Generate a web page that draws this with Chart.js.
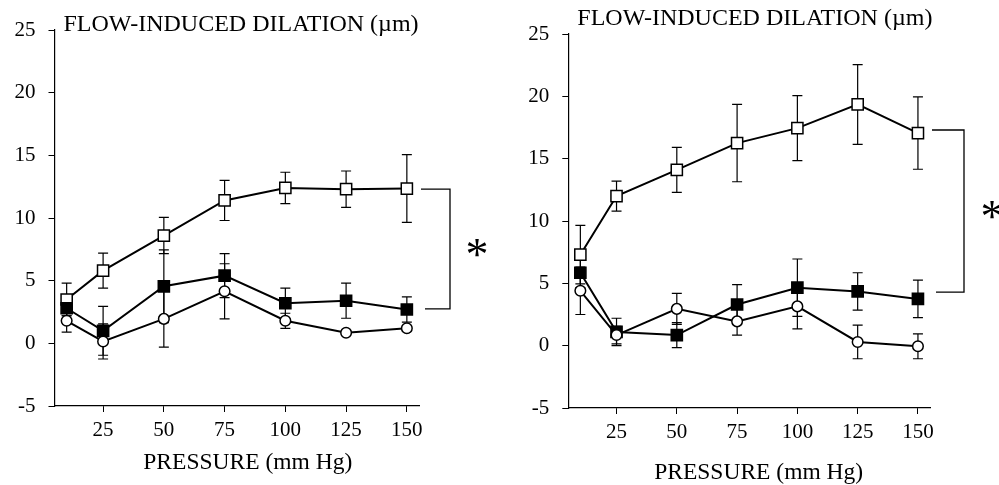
<!DOCTYPE html>
<html lang="en">
<head>
<meta charset="UTF-8" />
<title>Flow-induced dilation vs pressure</title>
<script src="https://cdn.jsdelivr.net/npm/chart.js@4.4.0/dist/chart.umd.min.js"></script>
<style>
  body { margin: 0; background: #fff; }
  .wrap { position: relative; width: 999px; height: 485px; }
  canvas { position: absolute; top: 0; }
  #leftChart { left: 0; }
  #rightChart { left: 500px; }
</style>
</head>
<body>
<div class="wrap">
  <canvas id="leftChart" width="500" height="485"></canvas>
  <canvas id="rightChart" width="499" height="485"></canvas>
</div>
<script>
// x positions (mm Hg) and axis ticks
const pressure = [10, 25, 50, 75, 100, 125, 150];
const xTickValues = [25, 50, 75, 100, 125, 150];
const yTickValues = [-5, 0, 5, 10, 15, 20, 25];

// left panel
const leftOpenSq = [3.5, 5.8, 8.6, 11.4, 12.4, 12.3, 12.35];
const leftOpenSqErr = [1.3, 1.4, 1.45, 1.6, 1.25, 1.45, 2.7];
const leftFilledSq = [2.8, 1.0, 4.55, 5.4, 3.2, 3.4, 2.7];
const leftFilledSqErr = [0.6, 1.95, 2.9, 1.75, 1.2, 1.4, 1.0];
const leftCircle = [1.8, 0.15, 1.95, 4.15, 1.8, 0.85, 1.2];
const leftCircleErr = [0.9, 1.4, 2.25, 2.2, 0.6, 0.2, 0.2];
const leftBracket = [12.3, 2.75];

// right panel
const rightOpenSq = [7.3, 12.0, 14.1, 16.25, 17.45, 19.35, 17.05];
const rightOpenSqErr = [2.35, 1.2, 1.8, 3.1, 2.6, 3.2, 2.9];
const rightFilledSq = [5.85, 1.1, 0.85, 3.3, 4.65, 4.35, 3.75];
const rightFilledSqErr = [1.2, 1.1, 1.0, 1.6, 2.3, 1.5, 1.5];
const rightCircle = [4.4, 0.85, 2.95, 1.95, 3.15, 0.3, -0.05];
const rightCircleErr = [1.9, 0.7, 1.25, 1.1, 1.8, 1.35, 1.0];
const rightBracket = [17.3, 4.3];

const titleText = 'FLOW-INDUCED DILATION (\u00b5m)';
const xTitleText = 'PRESSURE (mm Hg)';
const serif = "'Liberation Serif', 'Times New Roman', serif";

function pts(vals) {
  return pressure.map((p, i) => ({ x: p, y: vals[i] }));
}

// vertical error bars with caps, drawn under the markers
const errorBars = {
  id: 'errorBars',
  beforeDatasetsDraw(chart) {
    const ctx = chart.ctx;
    const ys = chart.scales.y;
    ctx.save();
    ctx.strokeStyle = '#000';
    ctx.lineWidth = 1.2;
    chart.data.datasets.forEach((ds, i) => {
      const meta = chart.getDatasetMeta(i);
      meta.data.forEach((el, j) => {
        const v = ds.data[j].y;
        const e = ds.errors[j];
        const top = ys.getPixelForValue(v + e);
        const bot = ys.getPixelForValue(v - e);
        ctx.beginPath();
        ctx.moveTo(el.x, top); ctx.lineTo(el.x, bot);
        ctx.moveTo(el.x - 5, top); ctx.lineTo(el.x + 5, top);
        ctx.moveTo(el.x - 5, bot); ctx.lineTo(el.x + 5, bot);
        ctx.stroke();
      });
    });
    ctx.restore();
  }
};

// titles, significance bracket and asterisk
const extras = {
  id: 'extras',
  afterDraw(chart, args, opts) {
    const ctx = chart.ctx;
    const area = chart.chartArea;
    const ys = chart.scales.y;
    ctx.save();
    ctx.fillStyle = '#000';
    ctx.font = '24px ' + serif;
    ctx.textBaseline = 'alphabetic';
    ctx.fillText(titleText, area.left + opts.titleDx, area.top + opts.titleDy);

    ctx.font = '23.5px ' + serif;
    ctx.textAlign = 'center';
    ctx.textBaseline = 'middle';
    ctx.fillText(xTitleText, (area.left + area.right) / 2 + opts.xTitleDx, opts.xTitleY);

    const yt = ys.getPixelForValue(opts.bracket[0]);
    const yb = ys.getPixelForValue(opts.bracket[1]);
    const x1 = area.right + opts.bracketW;
    ctx.strokeStyle = '#000';
    ctx.lineWidth = 1.3;
    ctx.beginPath();
    ctx.moveTo(area.right + 2, yt);
    ctx.lineTo(x1, yt);
    ctx.lineTo(x1, yb);
    ctx.lineTo(area.right + 6, yb);
    ctx.stroke();

    ctx.font = '46px ' + serif;
    ctx.textBaseline = 'alphabetic';
    ctx.fillText('*', area.right + opts.starDx, (yt + yb) / 2 + 21 + opts.starDy);
    ctx.restore();
  }
};

function makePanel(id, openSq, openErr, filledSq, filledErr, circ, circErr, extra) {
  const line = { borderColor: '#000', borderWidth: 2, pointBorderColor: '#000', pointBorderWidth: 1.5 };
  return new Chart(document.getElementById(id), {
    type: 'line',
    data: {
      datasets: [
        Object.assign({ data: pts(circ), errors: circErr, pointStyle: 'circle', pointRadius: 5.3,
          pointBackgroundColor: '#fff' }, line),
        Object.assign({ data: pts(filledSq), errors: filledErr, pointStyle: 'rect', pointRadius: 7.9,
          pointBackgroundColor: '#000' }, line),
        Object.assign({ data: pts(openSq), errors: openErr, pointStyle: 'rect', pointRadius: 7.9,
          pointBackgroundColor: '#fff' }, line)
      ]
    },
    options: {
      responsive: false,
      animation: false,
      layout: { padding: extra.padding },
      plugins: { legend: { display: false }, tooltip: { enabled: false }, extras: extra },
      scales: {
        x: {
          type: 'linear',
          min: 5,
          max: 155,
          afterBuildTicks: (s) => { s.ticks = xTickValues.map((v) => ({ value: v })); },
          afterFit: (s) => { s.height = extra.xHeight; },
          grid: { drawOnChartArea: false, color: '#000', tickLength: 6 },
          border: { color: '#000', width: 1.2 },
          ticks: { color: '#000', font: { family: serif, size: 21 }, padding: 6, maxRotation: 0 }
        },
        y: {
          min: -5,
          max: 25,
          afterBuildTicks: (s) => { s.ticks = yTickValues.map((v) => ({ value: v })); },
          afterFit: (s) => { s.width = extra.yWidth; },
          grid: { drawOnChartArea: false, color: '#000', tickLength: 6 },
          border: { color: '#000', width: 1.2 },
          ticks: { color: '#000', font: { family: serif, size: 21 }, padding: 13 }
        }
      }
    },
    plugins: [errorBars, extras]
  });
}

makePanel('leftChart', leftOpenSq, leftOpenSqErr, leftFilledSq, leftFilledSqErr, leftCircle, leftCircleErr,
  { padding: { left: 0, right: 81, top: 30, bottom: 0 }, yWidth: 54.5, xHeight: 79,
    titleDx: 9, titleDy: 1, xTitleDx: 11, xTitleY: 463,
    bracket: leftBracket, bracketW: 31, starDx: 58, starDy: 0 });

makePanel('rightChart', rightOpenSq, rightOpenSqErr, rightFilledSq, rightFilledSqErr, rightCircle, rightCircleErr,
  { padding: { left: 0, right: 69, top: 34, bottom: 0 }, yWidth: 68.3, xHeight: 77,
    titleDx: 9, titleDy: -9, xTitleDx: 9.5, xTitleY: 473,
    bracket: rightBracket, bracketW: 34, starDx: 62, starDy: 0 });
</script>
</body>
</html>
